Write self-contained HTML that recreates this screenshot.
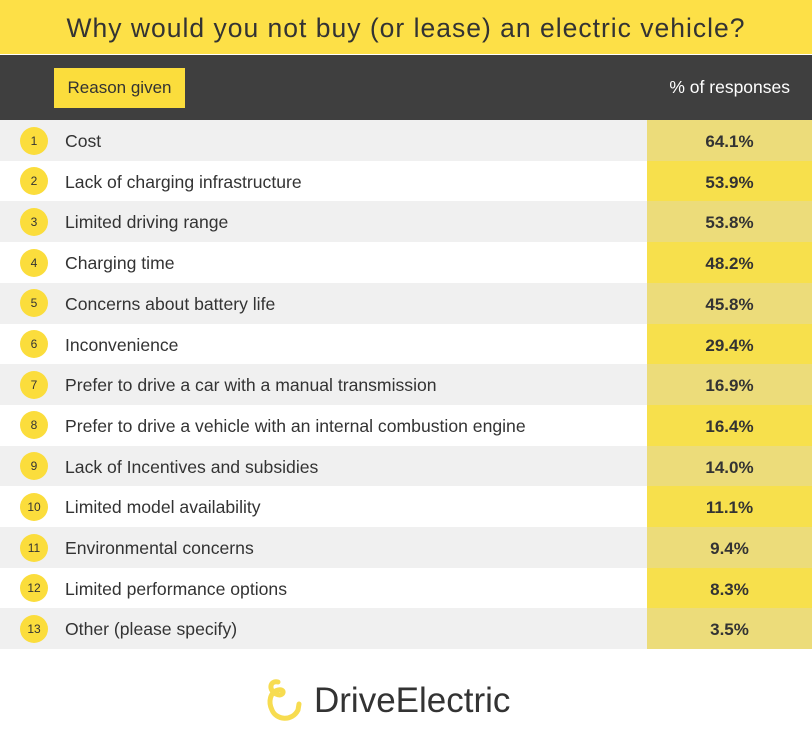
<!DOCTYPE html>
<html><head><meta charset="utf-8"><style>
body{margin:0;width:812px;height:736px;background:#fff;font-family:"Liberation Sans",sans-serif;overflow:hidden;position:relative}
.title{position:absolute;left:0;top:0;width:812px;height:54px;background:#fde047;color:#333;font-size:26.5px;text-align:center;line-height:56px;letter-spacing:1px}
.head{position:absolute;left:0;top:55px;width:812px;height:65px;background:#3f3f3f}
.rg{position:absolute;left:54px;top:13px;width:131px;height:40px;background:#fbdd3c;color:#333;font-size:17px;line-height:40px;text-align:center}
.pr{position:absolute;right:22px;top:0;line-height:65px;color:#fff;font-size:17.5px}
.row{position:absolute;left:0;width:812px;height:41px}
.badge{position:absolute;left:20px;width:28px;height:28px;border-radius:50%;background:#fbdd3c;color:#333;font-size:12px;text-align:center;line-height:28px}
.lab{position:absolute;left:65px;top:1px;font-size:17.6px;color:#333}
.val{position:absolute;left:647px;top:0;width:165px;height:41px;text-align:center;font-weight:bold;font-size:17px;color:#333;line-height:43px}
.logo{position:absolute;left:314px;top:681px;font-size:35px;color:#333}
</style></head><body>
<div class="title">Why would you not buy (or lease) an electric vehicle?</div>
<div class="head">
<div class="rg">Reason given</div>
<div class="pr">% of responses</div>
</div>
<div id="rows"></div>
<svg style="position:absolute;left:262px;top:676px" width="46" height="52">
<path d="M16 6 C8 4 6 14 14 18 C22 22 24 12 16 14 C8 16 6 26 10 34 C14 44 30 46 36 34 L37 28" fill="none" stroke="#f7dc50" stroke-width="5" stroke-linecap="round"/>
</svg>
<div class="logo">DriveElectric</div>
<script>
const reasons=["Cost","Lack of charging infrastructure","Limited driving range","Charging time","Concerns about battery life","Inconvenience","Prefer to drive a car with a manual transmission","Prefer to drive a vehicle with an internal combustion engine","Lack of Incentives and subsidies","Limited model availability","Environmental concerns","Limited performance options","Other (please specify)"];
const values=[64.1,53.9,53.8,48.2,45.8,29.4,16.9,16.4,14.0,11.1,9.4,8.3,3.5];
const c=document.getElementById('rows');
const top0=120,rh=40.7;
reasons.forEach((r,i)=>{
 const y=top0+i*rh;
 const row=document.createElement('div');row.className='row';
 
 
 row.style.top=y+'px';row.style.background=i%2==0?'#f0f0f0':'#fff';
 const b=document.createElement('div');b.className='badge';b.textContent=i+1;b.style.top='6.5px';
 
 
 const l=document.createElement('div');l.className='lab';l.textContent=r;l.style.lineHeight='41px';
 
 
 const v=document.createElement('div');v.className='val';v.textContent=values[i].toFixed(1)+'%';
 v.style.background=i%2==0?'#ecdc7a':'#f7e04c';
 
 
 row.append(b,l,v);c.appendChild(row);
});
</script>
</body></html>
